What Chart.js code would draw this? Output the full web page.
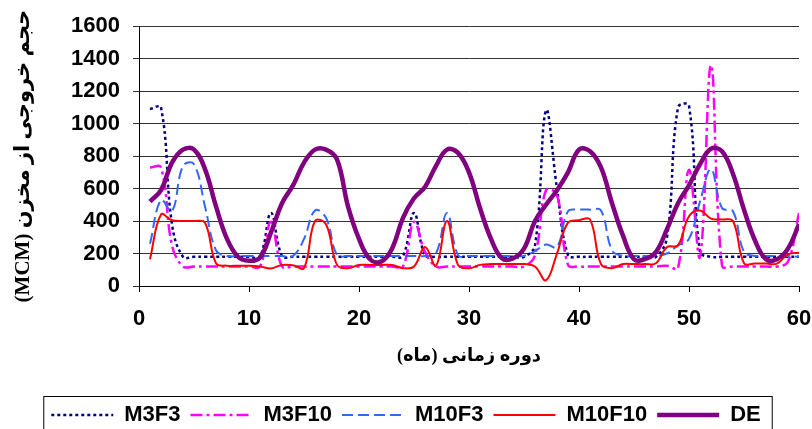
<!DOCTYPE html>
<html>
<head>
<meta charset="utf-8">
<script src="https://cdn.jsdelivr.net/npm/chart.js@4.4.0/dist/chart.umd.min.js"></script>
<style>
  body { margin: 0; background: #fff; }
</style>
</head>
<body>
<canvas id="grafico" width="812" height="429" dir="rtl"></canvas>
<script>
// ماه ها
const months = [1,2,3,4,5,6,7,8,9,10, 11,12,13,14,15,16,17,18,19,20,
  21,22,23,24,25,26,27,28,29,30, 31,32,33,34,35,36,37,38,39,40,
  41,42,43,44,45,46,47,48,49,50, 51,52,53,54,55,56,57,58,59,60];

const m3f3 = [1090,1100,380,180,180,180,180,180,180,180, 180,450,185,180,180,180,180,180,180,180,
  180,180,180,185,450,190,180,180,180,180, 180,180,180,180,180,250,1080,600,190,180,
  180,180,180,180,180,180,180,300,1100,1110, 210,180,180,180,180,180,180,180,180,180];

const m3f10 = [730,730,250,120,120,120,120,120,120,120, 120,395,120,120,120,120,120,120,120,120,
  120,120,120,120,395,210,120,120,120,120, 120,120,120,120,120,190,590,560,130,120,
  120,120,120,120,120,120,120,125,110,715, 180,1360,125,120,120,120,120,120,150,450];

const m10f3 = [260,530,460,740,750,490,220,185,185,185, 185,185,185,185,290,465,420,190,185,185,
  185,185,185,185,185,185,200,450,190,185, 185,185,185,185,185,215,255,240,460,470,
  470,465,220,185,185,185,185,200,250,290, 520,720,480,460,210,185,185,185,185,180];

const m10f10 = [165,440,405,400,400,390,140,125,125,125, 120,108,130,128,110,400,380,130,110,130,
  130,130,130,110,120,240,125,400,130,110, 130,135,135,135,135,120,35,200,390,405,
  410,135,110,135,135,135,140,240,250,430, 465,415,410,400,140,138,138,138,195,205];

const de = [520,590,760,840,840,720,490,290,180,155, 175,330,510,620,760,840,840,780,490,290,
  165,150,230,420,540,610,740,840,820,700, 480,290,170,170,230,400,500,590,700,840,
  830,730,510,310,165,165,210,350,510,620, 750,845,830,690,470,280,165,165,230,380];

const yTicks = [0, 200, 400, 600, 800, 1000, 1200, 1400, 1600];
const xTicks = [0, 10, 20, 30, 40, 50, 60];

function puntos(serie) {
  return months.map((m, i) => ({ x: m, y: serie[i] }));
}

// marco de la leyenda
const marcoLeyenda = {
  id: 'marcoLeyenda',
  afterDraw(chart) {
    const hb = chart.legend.legendHitBoxes;
    if (!hb.length) return;
    const ctx = chart.ctx;
    const izq = Math.min(...hb.map(h => h.left)) - 8;
    const der = Math.max(...hb.map(h => h.left + h.width)) + 11;
    const arriba = chart.legend.top + 2;
    ctx.save();
    ctx.strokeStyle = '#000';
    ctx.lineWidth = 1;
    ctx.strokeRect(izq + 0.5, arriba + 0.5, der - izq, chart.height - arriba + 10);
    ctx.restore();
  }
};

const fuenteNum = { family: "'Liberation Sans', Arial, sans-serif", size: 22, weight: 'bold' };
const fuenteTituloX = { family: "'Liberation Serif', 'DejaVu Sans', serif", size: 18, weight: 'bold' };
const fuenteTituloY = { family: "'Liberation Serif', 'DejaVu Sans', serif", size: 21, weight: 'bold' };

new Chart(document.getElementById('grafico'), {
  type: 'line',
  data: {
    datasets: [
      { label: 'M3F3', data: puntos(m3f3), borderColor: '#000080', borderWidth: 2.5, borderDash: [3, 3], order: 4 },
      { label: 'M3F10', data: puntos(m3f10), borderColor: '#FF00FF', borderWidth: 2.5, borderDash: [12, 4, 3, 4], order: 3 },
      { label: 'M10F3', data: puntos(m10f3), borderColor: '#3366FF', borderWidth: 2, borderDash: [11, 5], order: 2 },
      { label: 'M10F10', data: puntos(m10f10), borderColor: '#FF0000', borderWidth: 2, order: 1 },
      { label: 'DE', data: puntos(de), borderColor: '#800080', borderWidth: 4.5, order: 0 }
    ]
  },
  options: {
    responsive: false,
    animation: false,
    layout: { padding: { top: 24, left: 0, right: 0, bottom: -7 } },
    elements: {
      point: { radius: 0 },
      line: { tension: 0.4, fill: false, borderCapStyle: 'butt' }
    },
    plugins: {
      tooltip: { enabled: false },
      legend: {
        position: 'bottom',
        labels: {
          usePointStyle: true,
          pointStyle: 'line',
          pointStyleWidth: 62,
          padding: 10,
          color: '#000',
          font: fuenteNum,
          sort: (a, b) => a.datasetIndex - b.datasetIndex,
          generateLabels: chart => Chart.defaults.plugins.legend.labels.generateLabels(chart).map(l => {
            const ds = chart.data.datasets[l.datasetIndex];
            return { ...l, lineDash: ds.borderDash || [], lineWidth: ds.borderWidth, strokeStyle: ds.borderColor };
          })
        }
      }
    },
    scales: {
      x: {
        type: 'linear',
        min: 0,
        max: 60,
        afterBuildTicks: s => { s.ticks = xTicks.map(v => ({ value: v })); },
        afterFit: s => { s.height = 108; s.paddingRight = 13; s.paddingLeft = 0; },
        ticks: { color: '#000', font: fuenteNum, padding: 14, maxRotation: 0, callback: v => String(v) },
        grid: { drawOnChartArea: false, drawTicks: true, tickLength: 6, color: '#000' },
        border: { display: true, color: '#000', width: 1 },
        title: {
          display: true,
          text: 'دوره زمانی (ماه)',
          color: '#000',
          font: fuenteTituloX,
          padding: { top: 0, bottom: 27 }
        }
      },
      y: {
        min: 0,
        max: 1600,
        afterBuildTicks: s => { s.ticks = yTicks.map(v => ({ value: v })); },
        afterFit: s => { s.width = 139; },
        ticks: { color: '#000', font: fuenteNum, padding: 13, callback: v => String(v) },
        grid: { color: '#333', lineWidth: 1, tickLength: 6 },
        border: { display: true, color: '#000', width: 1 },
        title: {
          display: true,
          text: 'حجم خروجی از مخزن (MCM)',
          color: '#000',
          font: fuenteTituloY,
          padding: { top: 11, bottom: 0 }
        }
      }
    }
  },
  plugins: [marcoLeyenda]
});
</script>
</body>
</html>
